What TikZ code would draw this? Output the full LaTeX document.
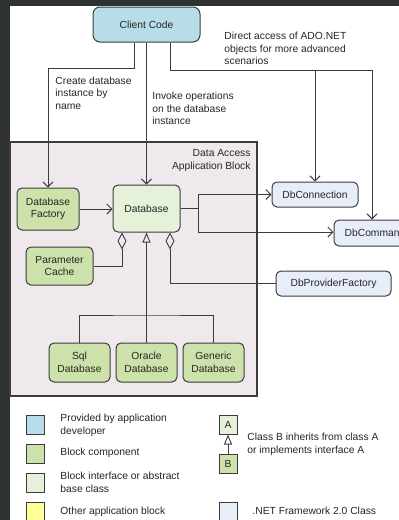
\documentclass[tikz,border=0pt]{standalone}
\usepackage{fontspec}
\setmainfont{Liberation Sans}
\usetikzlibrary{arrows.meta, positioning}
\definecolor{darkbg}{HTML}{2E3231}
\definecolor{linegray}{HTML}{3C3C3C}
\definecolor{textgray}{HTML}{262626}
\definecolor{clientblue}{HTML}{B7DDE8}
\definecolor{compgreen}{HTML}{CDE1AA}
\definecolor{ifacegreen}{HTML}{E6F1DA}
\definecolor{netblue}{HTML}{E7EEFA}
\definecolor{otheryellow}{HTML}{FFFF99}
\definecolor{blockbg}{HTML}{EFE9EE}

\begin{document}
\begin{tikzpicture}[x=1pt, y=-1pt, line width=0.9pt,
	every node/.style={font=\fontsize{10.3}{12.5}\selectfont, text=textgray, inner sep=0pt},
	box/.style={draw=linegray, line width=1pt, rounded corners=5pt, align=center},
	component/.style={box, fill=compgreen},
	netclass/.style={box, fill=netblue, minimum height=25pt},
	swatch/.style={draw=linegray, line width=1pt, minimum width=18pt, minimum height=19pt},
	legtext/.style={anchor=north west, align=left},
	wire/.style={draw=linegray},
	arr/.style={wire, -{Straight Barb[length=5pt, width=10pt]}},
	agg/.style={wire, {Diamond[open, length=17pt, width=9pt]}-},
	inh/.style={wire, -{Triangle[open, length=10pt, width=8pt]}}]

	\useasboundingbox (0,0) rectangle (399,520);
	\clip (0,0) rectangle (399,520);
	\fill[darkbg] (0,0) rectangle (399,520);
	\fill[white] (10,6) rectangle (399,520);

	\node[draw=linegray, line width=1.1pt, fill=blockbg, minimum width=247pt, minimum height=254pt] (dab) at (133.5,269) {};
	\node[anchor=north east, align=right] (dablabel) at (251,149) {Data Access\\Application Block};

	\node[box, fill=clientblue, rounded corners=7pt, minimum width=107pt, minimum height=35pt] (client) at (146.5,24.5) {Client Code};

	\node[component, minimum width=62pt, minimum height=42pt] (factory) at (48,209) {Database\\Factory};
	\node[box, fill=ifacegreen, minimum width=67pt, minimum height=47pt] (database) at (146.5,208.5) {Database};
	\node[component, minimum width=67pt, minimum height=38pt] (cache) at (59.5,266) {Parameter\\Cache};

	\node[component, minimum width=61pt, minimum height=39pt] (sql) at (79.5,362.5) {Sql\\Database};
	\node[component, minimum width=61pt, minimum height=39pt] (oracle) at (146.5,362.5) {Oracle\\Database};
	\node[component, minimum width=61pt, minimum height=39pt] (generic) at (213.5,362.5) {Generic\\Database};

	\node[netclass, minimum width=86pt] (conn) at (315,194.5) {DbConnection};
	\node[netclass, minimum width=82pt, minimum height=26pt] (cmd) at (375,233) {DbCommand};
	\node[netclass, minimum width=115pt] (provider) at (333.5,283.5) {DbProviderFactory};

	\coordinate (tap) at (372,70);
	\coordinate (split) at (198,208.5);
	\coordinate (bus) at (146.5,315);

	\draw[arr] ([xshift=-12.5pt]client.south) |- (48,68) -- (factory.north);
	\draw[arr] (client.south) -- (database.north);
	\draw[arr] ([xshift=23.5pt]client.south) |- (tap) -- (tap |- cmd.north);
	\draw[arr] (conn |- tap) -- (conn.north);

	\draw[arr] (factory.east) -- (factory.east -| database.west);
	\draw[wire] (database.east |- split) -- (split);
	\draw[arr] (split) |- (conn.west);
	\draw[arr] (split) |- (cmd.west |- 0,232);

	\draw[agg] ([xshift=-24.5pt]database.south) |- (cache.east);
	\draw[agg] ([xshift=23.5pt]database.south) |- (provider.west);

	\draw[inh] (oracle.north) -- (database.south);
	\draw[wire] (sql.north) |- (bus) -| (generic.north);

	\node[anchor=north west, align=left] (lblcreate) at (55,76.5) {Create database\\instance by\\name};
	\node[anchor=north west, align=left] (lblinvoke) at (152,92) {Invoke operations\\on the database\\instance};
	\node[anchor=north west, align=left] (lbldirect) at (224,32) {Direct access of ADO.NET\\objects for more advanced\\scenarios};

	\node[swatch, fill=clientblue] (legdev) at (35.5,424.5) {};
	\node[swatch, fill=compgreen] (legcomp) at (35.5,453.5) {};
	\node[swatch, fill=ifacegreen] (legiface) at (35.5,483) {};
	\node[swatch, fill=otheryellow] (legother) at (35.5,511.5) {};
	\node[legtext] (txtdev) at (60,414) {Provided by application\\developer};
	\node[legtext] (txtcomp) at (60,448) {Block component};
	\node[legtext] (txtiface) at (60,472) {Block interface or abstract\\base class};
	\node[legtext] (txtother) at (60,507) {Other application block};

	\node[swatch, fill=ifacegreen] (lega) at (228,424.5) {A};
	\node[swatch, fill=compgreen] (legb) at (228,463.5) {B};
	\draw[inh] (legb.north) -- (lega.south);
	\node[legtext] (txtinh) at (247,433) {Class B inherits from class A\\or implements interface A};
	\node[swatch, fill=netblue] (legnet) at (228,511.5) {};
	\node[legtext] (txtnet) at (252,507) {.NET Framework 2.0 Class};
\end{tikzpicture}
\end{document}
